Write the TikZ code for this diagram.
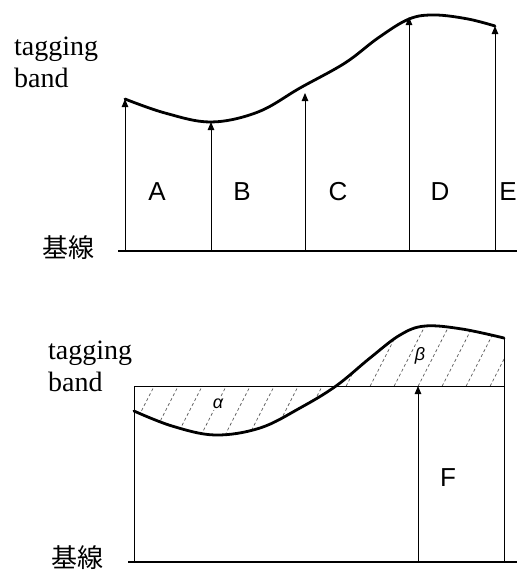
\documentclass[tikz,border=0pt]{standalone}
\usepackage{fontspec}
\setmainfont{Liberation Serif}
\newfontfamily\arialfont{Liberation Sans}
\newfontfamily\cjkfont{Noto Sans CJK JP}
\usetikzlibrary{arrows.meta}
\begin{document}
\begin{tikzpicture}[x=1pt,y=-1pt,
  curveline/.style={line width=2.8pt,line cap=round,line join=round},
  baseline/.style={line width=1.3pt},
  thinline/.style={line width=0.9pt},
  uparrow/.style={line width=0.9pt,-{Triangle[length=8pt,width=6.5pt]}},
  hatch/.style={line width=0.7pt,gray!70!black,dash pattern=on 3pt off 2.5pt},
  lbl/.style={font=\fontsize{28}{32}\selectfont,align=left,anchor=base west,inner sep=0pt},
  kanji/.style={font=\cjkfont\fontsize{26}{28}\selectfont,inner sep=0pt},
  region/.style={font=\arialfont\fontsize{26}{28}\selectfont,inner sep=0pt},
  greek/.style={font=\arialfont\itshape\fontsize{18}{20}\selectfont,fill=white,inner sep=1pt}]
\useasboundingbox (0,0) rectangle (517,571);

% ---------- top diagram ----------
\node[lbl] (tb1) at (14,87) {tagging\\band};
\node[kanji] (k1) at (68,248) {基線};
\coordinate (bl1s) at (118,251);
\coordinate (bl1e) at (517,251);
\draw[baseline] (bl1s) -- (bl1e);

\coordinate (aB) at (125,251); \coordinate (aT) at (125,99);
\coordinate (bB) at (211,251); \coordinate (bT) at (211,122);
\coordinate (cB) at (305,251); \coordinate (cT) at (305,93);
\coordinate (dB) at (409,251); \coordinate (dT) at (409,17);
\coordinate (eB) at (495,251); \coordinate (eT) at (495,26);
\draw[uparrow] (aB) -- (aT);
\draw[uparrow] (bB) -- (bT);
\draw[uparrow] (cB) -- (cT);
\draw[uparrow] (dB) -- (dT);
\draw[uparrow] (eB) -- (eT);

\draw[curveline] plot[smooth,tension=0.6] coordinates
  {(125,99) (165,113) (211,122) (258,112) (300,88) (345,63) (378,38) (409,19) (435,15) (468,19) (495,26)};

\node[region] (A) at (157,192) {A};
\node[region] (B) at (242,192) {B};
\node[region] (C) at (338,192) {C};
\node[region] (D) at (440,192) {D};
\node[region] (E) at (508,192) {E};

% ---------- bottom diagram ----------
\node[lbl] (tb2) at (48,391) {tagging\\band};
\node[kanji] (k2) at (77,558) {基線};

\begin{scope}
  \clip plot[smooth,tension=0.6] coordinates
    {(134,411) (172,426) (215,435) (260,428) (300,408) (336,386) (370,358) (400,335) (425,326) (462,329) (504,338)}
    -- (504,386) -- (134,386) -- cycle;
  \foreach \i in {100,124,...,520}
    \draw[hatch] (\i,445) -- ++(64,-125);
\end{scope}

\coordinate (bl2s) at (128,562);
\coordinate (bl2e) at (517,562);
\draw[baseline] (bl2s) -- (bl2e);
\coordinate (lvT) at (134,386); \coordinate (lvB) at (134,562);
\coordinate (rvT) at (504,338); \coordinate (rvB) at (504,562);
\coordinate (hR) at (504,386);
\draw[thinline] (lvB) -- (lvT) -- (hR);
\draw[thinline] (rvB) -- (rvT);
\coordinate (fB) at (418,562); \coordinate (fT) at (418,386);
\draw[uparrow] (fB) -- (fT);

\draw[curveline] plot[smooth,tension=0.6] coordinates
  {(134,411) (172,426) (215,435) (260,428) (300,408) (336,386) (370,358) (400,335) (425,326) (462,329) (504,338)};

\node[greek] (al) at (218,404) {α};
\node[greek] (be) at (420,356) {β};
\node[region] (F) at (448,478) {F};
\end{tikzpicture}
\end{document}
